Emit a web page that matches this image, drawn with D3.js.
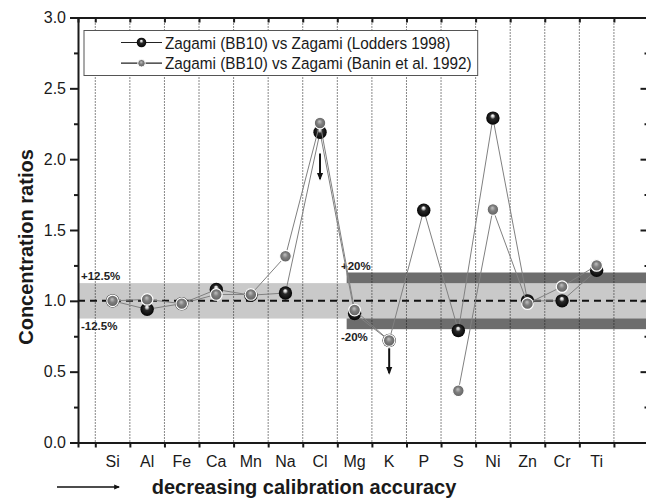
<!DOCTYPE html>
<html>
<head>
<meta charset="utf-8">
<script src="https://d3js.org/d3.v7.min.js"></script>
<style>
  body { margin: 0; background: #fff; }
  text { font-family: "Liberation Sans", Arial, sans-serif; }
  .axis path, .axis line { stroke: #1a1a1a; stroke-width: 2; }
  .axis text { font-size: 16px; fill: #1a1a1a; }
</style>
</head>
<body>
<script>
// data
const elements = ['Si','Al','Fe','Ca','Mn','Na','Cl','Mg','K','P','S','Ni','Zn','Cr','Ti']
const lodders = [1.0, 0.94, 0.98, 1.08, 1.04, 1.055, 2.19, 0.91, 0.72, 1.64, 0.79, 2.29, 1.0, 1.0, 1.215]
const banin   = [1.0, 1.01, 0.98, 1.045, 1.045, 1.315, 2.255, 0.935, 0.72, null, 0.365, 1.645, 0.98, 1.10, 1.25]
const yTicks = [0, 0.5, 1.0, 1.5, 2.0, 2.5, 3.0]
const yMinor = [0.25, 0.75, 1.25, 1.75, 2.25, 2.75]
const seriesNames = ['Zagami (BB10) vs Zagami (Lodders 1998)', 'Zagami (BB10) vs Zagami (Banin et al. 1992)']
// upper-limit arrows: element, from, to
const arrows = [['Cl', 2.04, 1.86], ['K', 0.665, 0.49]]

const W = 646, H = 499
const svg = d3.select('body').append('svg').attr('width', W).attr('height', H)

const x = d3.scaleLinear().domain([0, 16.5]).range([78, 648.5])
const y = d3.scaleLinear().domain([0, 3]).range([442.5, 17.5])
const halves = d3.range(0.5, 17, 1)

const defs = svg.append('defs')
const gb = defs.append('radialGradient').attr('id', 'gBlack').attr('fx', '48%').attr('fy', '30%')
gb.append('stop').attr('offset', '0%').attr('stop-color', '#ffffff')
gb.append('stop').attr('offset', '18%').attr('stop-color', '#cfcfcf')
gb.append('stop').attr('offset', '40%').attr('stop-color', '#2a2a2a')
gb.append('stop').attr('offset', '100%').attr('stop-color', '#050505')
const gg = defs.append('radialGradient').attr('id', 'gGray').attr('fx', '45%').attr('fy', '35%')
gg.append('stop').attr('offset', '0%').attr('stop-color', '#c0c0c0')
gg.append('stop').attr('offset', '25%').attr('stop-color', '#a0a0a0')
gg.append('stop').attr('offset', '45%').attr('stop-color', '#808080')
gg.append('stop').attr('offset', '100%').attr('stop-color', '#606060')
defs.append('marker').attr('id', 'head').attr('viewBox', '0 0 10 10')
  .attr('refX', 8).attr('refY', 5).attr('markerWidth', 4).attr('markerHeight', 4)
  .attr('markerUnits', 'strokeWidth').attr('orient', 'auto')
  .append('path').attr('d', 'M0,1 L10,5 L0,9 z').attr('fill', '#111')

// bands
svg.append('rect').attr('x', x(7.77)).attr('width', x(16.5) - x(7.77))
  .attr('y', y(1.2)).attr('height', y(0.8) - y(1.2)).attr('fill', '#6d6d6d')
svg.append('rect').attr('x', x(0)).attr('width', x(16.5) - x(0))
  .attr('y', y(1.125)).attr('height', y(0.875) - y(1.125)).attr('fill', '#c9c9c9')

// dotted grid
svg.append('g').selectAll('line').data(halves).join('line')
  .attr('x1', d => x(d)).attr('x2', d => x(d)).attr('y1', y(3)).attr('y2', y(0))
  .attr('stroke', '#111').attr('stroke-width', 1).attr('stroke-dasharray', '1,2')

// dashed 1.0 line
svg.append('line').attr('x1', x(0)).attr('x2', x(16.5)).attr('y1', y(1)).attr('y2', y(1))
  .attr('stroke', '#111').attr('stroke-width', 2).attr('stroke-dasharray', '7,5')

// band labels
const lab = svg.append('g').attr('font-size', 11.5).attr('font-weight', 'bold').attr('fill', '#222')
lab.append('text').attr('x', 81).attr('y', y(1.125) - 3).text('+12.5%')
lab.append('text').attr('x', 81).attr('y', y(0.875) + 11).text('-12.5%')
lab.append('text').attr('x', 341).attr('y', y(1.2) - 3).text('+20%')
lab.append('text').attr('x', 341).attr('y', y(0.8) + 12).text('-20%')

// axes
svg.append('g').attr('class', 'axis').attr('transform', `translate(0,${y(0)})`)
  .call(d3.axisBottom(x).tickValues(halves).tickSize(5).tickFormat(''))
svg.append('g').attr('class', 'axis').attr('transform', `translate(0,${y(3)})`)
  .call(d3.axisTop(x).tickValues(halves).tickSize(-5).tickFormat(''))
svg.append('g').attr('class', 'axis').attr('transform', `translate(${x(0)},0)`)
  .call(d3.axisLeft(y).tickValues(yTicks).tickSize(8).tickPadding(4).tickFormat(d3.format('.1f')))
svg.append('g').attr('class', 'axis').attr('transform', `translate(${x(0)},0)`)
  .call(d3.axisLeft(y).tickValues(yMinor).tickSize(4).tickFormat(''))
  .select('.domain').remove()
svg.append('g').attr('class', 'axis').attr('transform', `translate(${x(16.5)},0)`)
  .call(d3.axisRight(y).tickValues(yTicks).tickSize(-8).tickFormat(''))
svg.append('g').attr('class', 'axis').attr('transform', `translate(${x(16.5)},0)`)
  .call(d3.axisRight(y).tickValues(yMinor).tickSize(-4).tickFormat(''))
  .select('.domain').remove()

// element labels
svg.append('g').selectAll('text').data(elements).join('text')
  .attr('x', (d, i) => x(i + 1)).attr('y', 467).attr('text-anchor', 'middle')
  .attr('font-size', 16).attr('fill', '#1a1a1a').text(d => d)

// titles
svg.append('text').attr('transform', 'translate(33,247) rotate(-90)')
  .attr('text-anchor', 'middle').attr('font-size', 20).attr('font-weight', 'bold')
  .attr('fill', '#1a1a1a').text('Concentration ratios')
svg.append('text').attr('x', 304).attr('y', 494).attr('text-anchor', 'middle')
  .attr('font-size', 20).attr('font-weight', 'bold').attr('fill', '#1a1a1a')
  .text('decreasing calibration accuracy')
svg.append('line').attr('x1', 57).attr('x2', 119).attr('y1', 487).attr('y2', 487)
  .attr('stroke', '#111').attr('stroke-width', 1.5).attr('marker-end', 'url(#head)')

// series
const line = d3.line().defined(d => d[1] != null).x(d => x(d[0])).y(d => y(d[1]))
function drawSeries(vals, grad, r, stroke) {
  const pts = vals.map((v, i) => [i + 1, v])
  svg.append('path').datum(pts).attr('d', line)
    .attr('fill', 'none').attr('stroke', '#808080').attr('stroke-width', 1)
  svg.append('g').selectAll('circle').data(pts.filter(d => d[1] != null)).join('circle')
    .attr('cx', d => x(d[0])).attr('cy', d => y(d[1])).attr('r', r)
    .attr('fill', `url(#${grad})`).attr('stroke', stroke).attr('stroke-width', 1.2)
}
drawSeries(lodders, 'gBlack', 6.7, 'none')
drawSeries(banin, 'gGray', 5.8, '#fff')

// arrows
svg.append('g').selectAll('line').data(arrows).join('line')
  .attr('x1', d => x(elements.indexOf(d[0]) + 1)).attr('x2', d => x(elements.indexOf(d[0]) + 1))
  .attr('y1', d => y(d[1])).attr('y2', d => y(d[2]))
  .attr('stroke', '#111').attr('stroke-width', 2).attr('marker-end', 'url(#head)')

// legend
const lg = svg.append('g')
const box = lg.append('rect').attr('x', 84).attr('y', 30.5).attr('height', 45)
  .attr('fill', '#fff').attr('stroke', '#555').attr('stroke-width', 1)
let maxW = 0
seriesNames.forEach((name, i) => {
  const yy = 42.5 + i * 20.7
  lg.append('line').attr('x1', 121).attr('x2', 162).attr('y1', yy).attr('y2', yy)
    .attr('stroke', '#222').attr('stroke-width', 1.2)
  lg.append('circle').attr('cx', 141.5).attr('cy', yy).attr('r', i === 0 ? 4.8 : 3.8)
    .attr('fill', i === 0 ? 'url(#gBlack)' : 'url(#gGray)')
    .attr('stroke', i === 0 ? 'none' : '#fff')
  const t = lg.append('text').attr('transform', `translate(165,${yy + 6}) scale(0.9,1)`)
    .attr('font-size', 17).attr('fill', '#1a1a1a').text(name)
  maxW = Math.max(maxW, t.node().getComputedTextLength() * 0.9)
})
box.attr('width', 165 + maxW + 6 - 84)
</script>
</body>
</html>
